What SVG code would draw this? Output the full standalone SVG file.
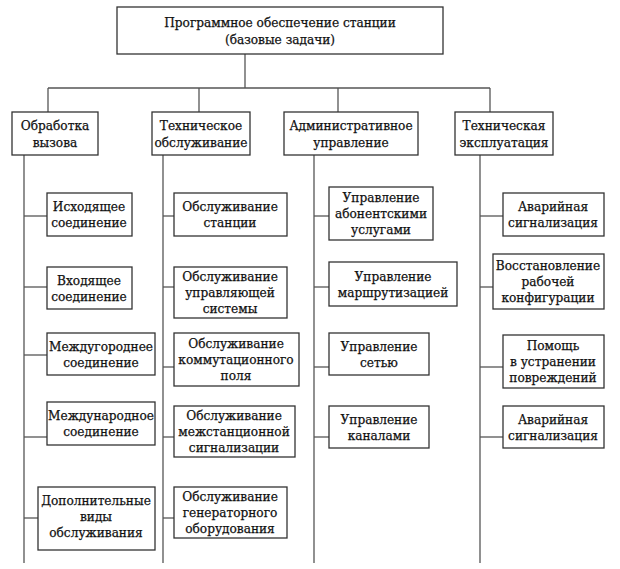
<svg xmlns="http://www.w3.org/2000/svg" width="620" height="569" viewBox="0 0 620 569">
<style>
  .box { fill: #ffffff; stroke: #333333; stroke-width: 1.3; }
  .ln { stroke: #555555; stroke-width: 1.3; fill: none; }
  .t { font-family: "DejaVu Serif Condensed", "DejaVu Serif", serif; font-stretch: condensed; font-size: 13.5px; fill: #111111; stroke: #111111; stroke-width: 0.25; text-anchor: middle; }
</style>
<rect x="0" y="0" width="620" height="569" fill="#ffffff"/>
<g id="connectors">
  <line class="ln" x1="245" y1="54" x2="245" y2="88"/>
  <line class="ln" x1="48" y1="88" x2="490" y2="88"/>
  <line class="ln" x1="48" y1="88" x2="48" y2="112"/>
  <line class="ln" x1="199" y1="88" x2="199" y2="112"/>
  <line class="ln" x1="338" y1="88" x2="338" y2="112"/>
  <line class="ln" x1="490" y1="88" x2="490" y2="112"/>
  <line class="ln" x1="24" y1="155" x2="24" y2="563"/>
  <line class="ln" x1="163" y1="155" x2="163" y2="563"/>
  <line class="ln" x1="314" y1="155" x2="314" y2="563"/>
  <line class="ln" x1="480" y1="155" x2="480" y2="563"/>
  <line class="ln" x1="24" y1="216" x2="47" y2="216"/>
  <line class="ln" x1="24" y1="287" x2="47" y2="287"/>
  <line class="ln" x1="24" y1="355" x2="47" y2="355"/>
  <line class="ln" x1="24" y1="437" x2="47" y2="437"/>
  <line class="ln" x1="24" y1="518" x2="38" y2="518"/>
  <line class="ln" x1="163" y1="216" x2="174" y2="216"/>
  <line class="ln" x1="163" y1="287" x2="174" y2="287"/>
  <line class="ln" x1="163" y1="367" x2="174" y2="367"/>
  <line class="ln" x1="163" y1="437" x2="174" y2="437"/>
  <line class="ln" x1="163" y1="518" x2="174" y2="518"/>
  <line class="ln" x1="314" y1="216" x2="329" y2="216"/>
  <line class="ln" x1="314" y1="287" x2="329" y2="287"/>
  <line class="ln" x1="314" y1="367" x2="329" y2="367"/>
  <line class="ln" x1="314" y1="437" x2="329" y2="437"/>
  <line class="ln" x1="480" y1="216" x2="503" y2="216"/>
  <line class="ln" x1="480" y1="287" x2="493" y2="287"/>
  <line class="ln" x1="480" y1="367" x2="503" y2="367"/>
  <line class="ln" x1="480" y1="437" x2="503" y2="437"/>
</g>
<g id="root">
  <rect class="box" x="117" y="7" width="326" height="47"/>
  <text class="t" x="280" y="27">Программное обеспечение станции</text>
  <text class="t" x="280" y="44">(базовые задачи)</text>
</g>
<g id="n-obrabotka">
  <rect class="box" x="12" y="112" width="86" height="43"/>
  <text class="t" x="55" y="130">Обработка</text>
  <text class="t" x="55" y="147">вызова</text>
</g>
<g id="n-tech-obsl">
  <rect class="box" x="152" y="112" width="98" height="43"/>
  <text class="t" x="201" y="130">Техническое</text>
  <text class="t" x="201" y="147">обслуживание</text>
</g>
<g id="n-admin">
  <rect class="box" x="284" y="112" width="134" height="43"/>
  <text class="t" x="351" y="130">Административное</text>
  <text class="t" x="351" y="147">управление</text>
</g>
<g id="n-tech-expl">
  <rect class="box" x="455" y="112" width="98" height="43"/>
  <text class="t" x="504" y="130">Техническая</text>
  <text class="t" x="504" y="147">эксплуатация</text>
</g>
<g id="n-ishod">
  <rect class="box" x="47" y="193" width="85" height="43"/>
  <text class="t" x="89" y="211">Исходящее</text>
  <text class="t" x="89" y="227">соединение</text>
</g>
<g id="n-vhod">
  <rect class="box" x="47" y="267" width="85" height="42"/>
  <text class="t" x="89" y="285">Входящее</text>
  <text class="t" x="89" y="301">соединение</text>
</g>
<g id="n-mezhgor">
  <rect class="box" x="47" y="333" width="108" height="42"/>
  <text class="t" x="101" y="351">Междугороднее</text>
  <text class="t" x="101" y="367">соединение</text>
</g>
<g id="n-mezhdunar">
  <rect class="box" x="47" y="402" width="108" height="43"/>
  <text class="t" x="101" y="420">Международное</text>
  <text class="t" x="101" y="436">соединение</text>
</g>
<g id="n-dopoln">
  <rect class="box" x="38" y="487" width="117" height="63"/>
  <text class="t" x="96" y="505">Дополнительные</text>
  <text class="t" x="96" y="521">виды</text>
  <text class="t" x="96" y="537">обслуживания</text>
</g>
<g id="n-obsl-stancii">
  <rect class="box" x="174" y="193" width="113" height="43"/>
  <text class="t" x="230" y="211">Обслуживание</text>
  <text class="t" x="230" y="227">станции</text>
</g>
<g id="n-obsl-upr">
  <rect class="box" x="174" y="267" width="113" height="51"/>
  <text class="t" x="230" y="281">Обслуживание</text>
  <text class="t" x="230" y="297">управляющей</text>
  <text class="t" x="230" y="313">системы</text>
</g>
<g id="n-obsl-komm">
  <rect class="box" x="174" y="333" width="125" height="53"/>
  <text class="t" x="236" y="348">Обслуживание</text>
  <text class="t" x="236" y="364">коммутационного</text>
  <text class="t" x="236" y="380">поля</text>
</g>
<g id="n-obsl-mezhst">
  <rect class="box" x="174" y="406" width="121" height="51"/>
  <text class="t" x="234" y="420">Обслуживание</text>
  <text class="t" x="234" y="436">межстанционной</text>
  <text class="t" x="234" y="452">сигнализации</text>
</g>
<g id="n-obsl-gen">
  <rect class="box" x="174" y="487" width="113" height="51"/>
  <text class="t" x="230" y="501">Обслуживание</text>
  <text class="t" x="230" y="517">генераторного</text>
  <text class="t" x="230" y="533">оборудования</text>
</g>
<g id="n-upr-abon">
  <rect class="box" x="329" y="187" width="104" height="53"/>
  <text class="t" x="381" y="202">Управление</text>
  <text class="t" x="381" y="218">абонентскими</text>
  <text class="t" x="381" y="234">услугами</text>
</g>
<g id="n-upr-marsh">
  <rect class="box" x="329" y="262" width="128" height="44"/>
  <text class="t" x="393" y="281">Управление</text>
  <text class="t" x="393" y="297">маршрутизацией</text>
</g>
<g id="n-upr-set">
  <rect class="box" x="329" y="333" width="100" height="42"/>
  <text class="t" x="379" y="351">Управление</text>
  <text class="t" x="379" y="367">сетью</text>
</g>
<g id="n-upr-kan">
  <rect class="box" x="329" y="406" width="100" height="42"/>
  <text class="t" x="379" y="424">Управление</text>
  <text class="t" x="379" y="440">каналами</text>
</g>
<g id="n-avar-1">
  <rect class="box" x="503" y="193" width="101" height="43"/>
  <text class="t" x="553" y="211">Аварийная</text>
  <text class="t" x="553" y="227">сигнализация</text>
</g>
<g id="n-vosst">
  <rect class="box" x="493" y="254" width="111" height="55"/>
  <text class="t" x="548" y="270">Восстановление</text>
  <text class="t" x="548" y="286">рабочей</text>
  <text class="t" x="548" y="302">конфигурации</text>
</g>
<g id="n-pomosh">
  <rect class="box" x="503" y="335" width="101" height="53"/>
  <text class="t" x="553" y="350">Помощь</text>
  <text class="t" x="553" y="366">в устранении</text>
  <text class="t" x="553" y="382">повреждений</text>
</g>
<g id="n-avar-2">
  <rect class="box" x="503" y="406" width="101" height="42"/>
  <text class="t" x="553" y="424">Аварийная</text>
  <text class="t" x="553" y="440">сигнализация</text>
</g>
</svg>
